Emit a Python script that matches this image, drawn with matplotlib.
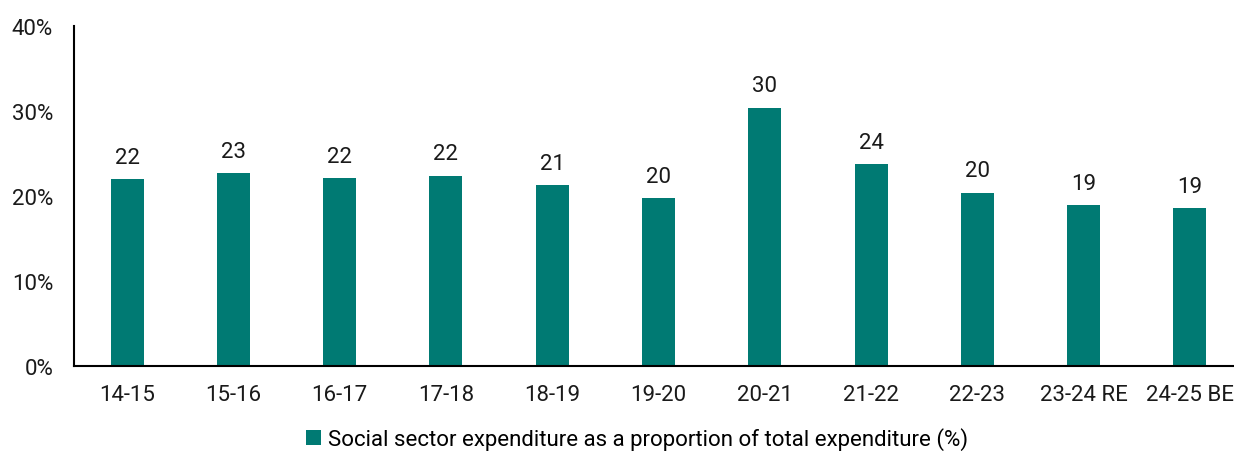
import matplotlib
matplotlib.use("Agg")
import matplotlib.pyplot as plt
from matplotlib.patches import Patch

plt.rcParams['font.family'] = ['Roboto', 'DejaVu Sans']

categories = ["14-15", "15-16", "16-17", "17-18", "18-19", "19-20",
              "20-21", "21-22", "22-23", "23-24 RE", "24-25 BE"]
values = [22.0, 22.7, 22.1, 22.4, 21.3, 19.8, 30.4, 23.8, 20.4, 18.9, 18.6]
labels = ["22", "23", "22", "22", "21", "20", "30", "24", "20", "19", "19"]
series_name = "Social sector expenditure as a proportion of total expenditure (%)"
yticks = [0, 10, 20, 30, 40]
color = "#007A73"

W, H = 1234, 452
fig = plt.figure(figsize=(W / 100, H / 100), dpi=100)
left, right = 74, 1243
bottom, top = 367, 27
ax = fig.add_axes([left / W, 1 - bottom / H, (right - left) / W, (bottom - top) / H])

x = list(range(len(categories)))
bars = ax.bar(x, values, width=0.31, color=color, zorder=2)
fs = 16
for xi, v, lab in zip(x, values, labels):
    ax.annotate(lab, (xi, v), xytext=(0, 8), textcoords="offset points",
                ha="center", va="bottom", fontsize=fs, color="#1a1a1a")

ax.set_xlim(-0.5, 10.5)
ax.set_ylim(0, 40)
ax.set_yticks(yticks)
ax.set_yticklabels([f"{t}%" for t in yticks])
ax.set_xticks(x)
ax.set_xticklabels(categories)
ax.tick_params(axis="both", length=0, labelsize=fs, colors="#1a1a1a")
ax.tick_params(axis="x", pad=13)
ax.tick_params(axis="y", pad=15)
for s in ["top", "right"]:
    ax.spines[s].set_visible(False)
for s in ["left", "bottom"]:
    ax.spines[s].set_linewidth(1.5)
    ax.spines[s].set_color("black")

fig.legend(handles=[Patch(facecolor=color, label=series_name)],
           loc="center", bbox_to_anchor=(637 / W, 1 - 440 / H),
           frameon=False, fontsize=fs, handlelength=0.7, handleheight=0.7,
           handletextpad=0.3, borderaxespad=0)

fig.savefig("out.png", dpi=100)
